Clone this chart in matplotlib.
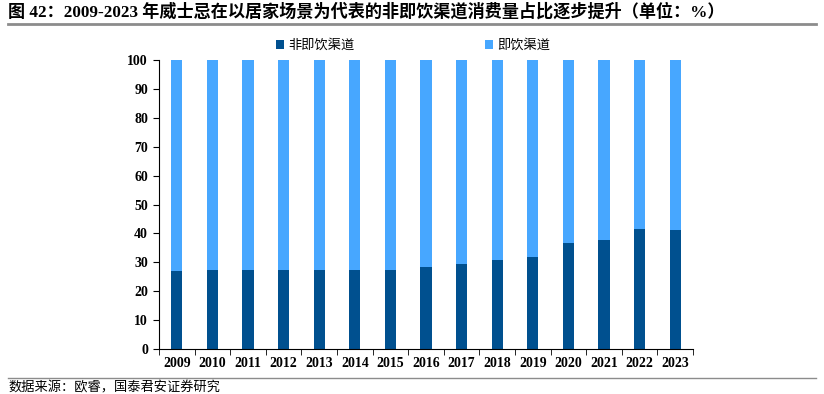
import matplotlib
matplotlib.use("Agg")
import matplotlib.pyplot as plt
import numpy as np

# chart data (percent share of whisky consumption by channel)
years = ["2009", "2010", "2011", "2012", "2013", "2014", "2015", "2016",
         "2017", "2018", "2019", "2020", "2021", "2022", "2023"]
off_trade = [27.0, 27.2, 27.2, 27.2, 27.2, 27.2, 27.2, 28.5,
             29.5, 30.7, 31.8, 36.8, 37.7, 41.5, 41.2]
on_trade = [100 - v for v in off_trade]

dark_blue = "#00508F"
light_blue = "#47A7FF"
fonts = ["Liberation Serif", "Noto Sans CJK SC"]

fig = plt.figure(figsize=(8.24, 3.94), dpi=100)
ax = fig.add_axes([159 / 824, 1 - 349 / 394, (693 - 159) / 824, (349 - 60) / 394])

x = np.arange(len(years))
ax.bar(x, off_trade, width=0.31, color=dark_blue, label="非即饮渠道")
ax.bar(x, on_trade, width=0.31, bottom=off_trade, color=light_blue, label="即饮渠道")

ax.set_xlim(-0.5, len(years) - 0.5)
ax.set_ylim(0, 100)
ax.set_yticks(range(0, 101, 10))
ax.set_xticks(x)
ax.set_xticklabels(years)
ax.set_xticks(np.arange(-0.5, len(years), 1), minor=True)
ax.tick_params(axis="x", which="major", length=0, pad=6)
ax.tick_params(axis="x", which="minor", length=4, direction="out")
ax.tick_params(axis="y", length=4, direction="out", pad=4)
for lbl in ax.get_xticklabels() + ax.get_yticklabels():
    lbl.set_family(fonts)
    lbl.set_fontweight("bold")
    lbl.set_fontsize(10)
for side in ["top", "right"]:
    ax.spines[side].set_visible(False)
for side in ["left", "bottom"]:
    ax.spines[side].set_color("black")
    ax.spines[side].set_linewidth(0.8)

leg = ax.legend(loc="lower center", bbox_to_anchor=(0.476, 0.986), ncol=2, frameon=False,
                prop={"family": "Noto Sans CJK SC", "size": 9.5},
                handlelength=0.6, handleheight=0.6, columnspacing=9.9, handletextpad=0.3)

fig.text(8 / 824, 1 - 12 / 394,
         "图 42：2009-2023 年威士忌在以居家场景为代表的非即饮渠道消费量占比逐步提升（单位：%）",
         family=fonts, fontweight="bold", fontsize=12.3, va="center", ha="left")
fig.add_artist(plt.Line2D([8 / 824, 816 / 824], [1 - 24 / 394] * 2, color="#8C8C8C", lw=2))
fig.add_artist(plt.Line2D([8 / 824, 816 / 824], [1 - 378 / 394] * 2, color="#8C8C8C", lw=1))
fig.text(8 / 824, 1 - 388 / 394, "数据来源：欧睿，国泰君安证券研究",
         family=fonts, fontsize=9.5, va="center", ha="left")

fig.savefig("out.png", dpi=100)
